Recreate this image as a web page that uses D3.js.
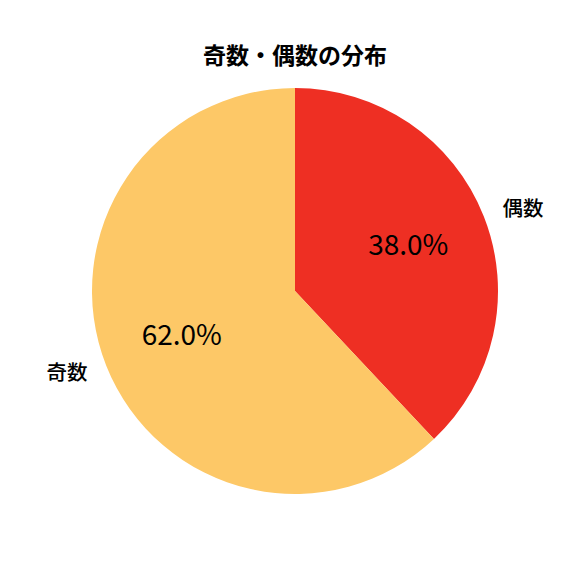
<!DOCTYPE html>
<html><head><meta charset="utf-8">
<script src="https://cdn.jsdelivr.net/npm/d3@7"></script>
<style>html,body{margin:0;padding:0;background:#fff;}</style>
</head><body>
<svg id="chart" width="576" height="576"></svg>
<script>
const title = "奇数・偶数の分布";
const categories = ["偶数", "奇数"];
const values = [38.0, 62.0];
const colors = ["#ee2f23", "#fdc867"];

const W = 576, H = 576;
const cx = 295, cy = 291, R = 203;
const font = "'Noto Sans CJK JP', 'Noto Sans', sans-serif";
const svg = d3.select("#chart");
svg.append("rect").attr("width", W).attr("height", H).attr("fill", "#fff");

const data = categories.map((c, i) => ({cat: c, value: values[i], color: colors[i]}));
const pie = d3.pie().value(d => d.value).sort(null).startAngle(0).endAngle(2 * Math.PI);
const arcs = pie(data);
const arc = d3.arc().innerRadius(0).outerRadius(R);
const g = svg.append("g").attr("transform", `translate(${cx},${cy})`);
g.selectAll("path").data(arcs).join("path")
  .attr("d", arc).attr("fill", d => d.data.color);

const total = d3.sum(values);
arcs.forEach(a => {
  const mid = (a.startAngle + a.endAngle) / 2;
  const sx = Math.sin(mid), sy = -Math.cos(mid);
  g.append("text")
    .attr("x", 1.1 * R * sx).attr("y", 1.1 * R * sy - 2)
    .attr("text-anchor", sx > 0 ? "start" : "end")
    .attr("dominant-baseline", "central")
    .attr("font-family", font).attr("font-size", 20.5).attr("font-weight", 500)
    .attr("fill", "#000").text(a.data.cat);
  g.append("text")
    .attr("x", 0.6 * R * sx).attr("y", 0.6 * R * sy - 3)
    .attr("text-anchor", "middle")
    .attr("dominant-baseline", "central")
    .attr("font-family", font).attr("font-size", 28)
    .attr("fill", "#000").text((a.data.value / total * 100).toFixed(1) + "%");
});

svg.append("text").attr("x", 295).attr("y", 54)
  .attr("text-anchor", "middle").attr("dominant-baseline", "central")
  .attr("font-family", font).attr("font-size", 23).attr("font-weight", "bold")
  .attr("fill", "#000").text(title);
</script>
</body></html>
